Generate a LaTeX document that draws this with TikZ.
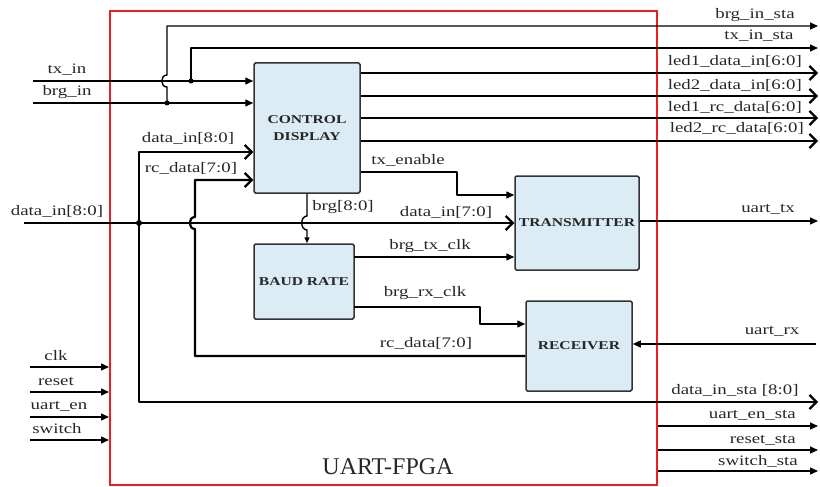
\documentclass[tikz,border=0pt]{standalone}
\usepackage{fontspec}
\setmainfont{Liberation Serif}
\newfontfamily\wide[FakeStretch=1.3]{Liberation Serif}
\usetikzlibrary{arrows.meta,positioning}
\definecolor{boxblue}{RGB}{219,236,244}
\definecolor{fpgared}{RGB}{236,30,36}

\tikzset{
  frame/.style={draw=fpgared, line width=2pt, minimum width=547pt, minimum height=474pt},
  blk/.style={draw=black!80, fill=boxblue, line width=1.5pt, rounded corners=1.5pt, text=black!85,
    font=\wide\bfseries\fontsize{12}{17}\selectfont, align=center},
  wire/.style={line width=1.4pt, line join=round},
  sig/.style={wire, -{Triangle[length=8pt,width=7pt]}},
  bus/.style={line width=2.2pt, line join=round, -{Straight Barb[length=7pt,width=14pt]}},
  lbl/.style={font=\wide\fontsize{14.5}{15}\selectfont, text=black!85, inner sep=1pt},
}

\begin{document}
\begin{tikzpicture}[x=1pt,y=-1pt]
	\useasboundingbox (0,0) rectangle (820,487);
	% Blocks
	\node[frame] (fpga) at (383.5,248) {};
	\node[blk, minimum width=106pt, minimum height=130pt] (ctrl) at (307,128) {CONTROL\\DISPLAY};
	\node[blk, minimum width=124pt, minimum height=94pt] (tx) at (577,223) {TRANSMITTER};
	\node[blk, minimum width=100pt, minimum height=75pt] (baud) at (304,281.5) {BAUD RATE};
	\node[blk, minimum width=106pt, minimum height=90pt] (rx) at (579,346) {RECEIVER};
	\node[font=\fontsize{24}{26}\selectfont, text=black!85] (name) at (388,467) {UART-FPGA};

	% tx_in / brg_in and their status copies
	\coordinate (txin) at (33,81);
	\coordinate (brgin) at (33,103);
	\coordinate (jtx) at (191,81);
	\coordinate (jbrg) at (167,103);
	\coordinate (brgout) at (818,26);
	\coordinate (txout) at (818,48);
	\draw[sig] (txin) -- (txin -| ctrl.west);
	\draw[sig] (brgin) -- (brgin -| ctrl.west);
	\draw[sig] (jbrg) -- (167,87) .. controls (160,87) and (160,75) .. (167,75) |- (brgout);
	\draw[sig] (jtx) |- (txout);
	\fill (jtx) circle (2.5pt);
	\fill (jbrg) circle (2.5pt);
	\node[lbl] (l-txin) at (67,70) {tx\_in};
	\node[lbl] (l-brgin) at (67,92) {brg\_in};
	\node[lbl] (l-brgout) at (755,15) {brg\_in\_sta};
	\node[lbl] (l-txout) at (759,36) {tx\_in\_sta};

	% display outputs
	\coordinate (led1d) at (818,73);
	\coordinate (led2d) at (818,96);
	\coordinate (led1r) at (818,118);
	\coordinate (led2r) at (818,141);
	\draw[bus] (led1d -| ctrl.east) -- (led1d);
	\draw[bus] (led2d -| ctrl.east) -- (led2d);
	\draw[bus] (led1r -| ctrl.east) -- (led1r);
	\draw[bus] (led2r -| ctrl.east) -- (led2r);
	\node[lbl, anchor=east] (l-led1d) at (803,61) {led1\_data\_in[6:0]};
	\node[lbl, anchor=east] (l-led2d) at (803,85) {led2\_data\_in[6:0]};
	\node[lbl, anchor=east] (l-led1r) at (803,107) {led1\_rc\_data[6:0]};
	\node[lbl, anchor=east] (l-led2r) at (805,128) {led2\_rc\_data[6:0]};

	% data_in bus
	\coordinate (din) at (24,223);
	\coordinate (jdin) at (139,223);
	\coordinate (dtop) at (139,152);
	\coordinate (dbot) at (139,402);
	\coordinate (dinsta) at (818,402);
	\draw[bus] (din) -- (din -| tx.west);
	\draw[bus, {Straight Barb[length=7pt,width=14pt]}-{Straight Barb[length=7pt,width=14pt]}]
		(dtop -| ctrl.west) -- (dtop) -- (dbot) -- (dinsta);
	\fill (jdin) circle (3pt);
	\node[lbl] (l-din) at (57,211) {data\_in[8:0]};
	\node[lbl] (l-dtop) at (188,138) {data\_in[8:0]};
	\node[lbl] (l-dtx) at (446,212) {data\_in[7:0]};
	\node[lbl] (l-dsta) at (735,390) {data\_in\_sta [8:0]};

	% rc_data bus
	\coordinate (rctop) at (195,180);
	\coordinate (rcbot) at (195,356);
	\draw[bus] (rcbot -| rx.west) -- (rcbot) -- (195,229) .. controls (188,229) and (188,217) .. (195,217)
		-- (rctop) -- (rctop -| ctrl.west);
	\node[lbl] (l-rctop) at (191,168) {rc\_data[7:0]};
	\node[lbl] (l-rcbot) at (426,343) {rc\_data[7:0]};

	% brg and clocks
	\draw[wire, -{Triangle[length=6pt,width=5pt]}] (ctrl.south) -- (307,216) .. controls (300,216) and (300,230) .. (307,230)
		-- (ctrl.south |- baud.north);
	\node[lbl] (l-brg) at (343,207) {brg[8:0]};
	\coordinate (txen) at (457,172);
	\coordinate (txen2) at (457,195);
	\draw[sig] (txen -| ctrl.east) -- (txen) -- (txen2) -- (txen2 -| tx.west);
	\node[lbl] (l-txen) at (408,160) {tx\_enable};
	\coordinate (btx) at (354,257);
	\draw[sig] (btx) -- (btx -| tx.west);
	\node[lbl] (l-btx) at (430,246) {brg\_tx\_clk};
	\coordinate (brx) at (354,307);
	\coordinate (brx2) at (480,307);
	\coordinate (brx3) at (480,324);
	\draw[sig] (brx) -- (brx2) -- (brx3) -- (brx3 -| rx.west);
	\node[lbl] (l-brx) at (425,293) {brg\_rx\_clk};

	% uart lines
	\coordinate (utx) at (818,221);
	\draw[sig] (utx -| tx.east) -- (utx);
	\node[lbl] (l-utx) at (768,209) {uart\_tx};
	\coordinate (urx) at (816,344);
	\draw[sig] (urx) -- (urx -| rx.east);
	\node[lbl] (l-urx) at (772,331) {uart\_rx};

	% control inputs
	\coordinate (clk) at (30,367);
	\coordinate (rst) at (30,392);
	\coordinate (uen) at (30,417);
	\coordinate (sw) at (30,440);
	\draw[sig] (clk) -- (clk -| fpga.west);
	\draw[sig] (rst) -- (rst -| fpga.west);
	\draw[sig] (uen) -- (uen -| fpga.west);
	\draw[sig] (sw) -- (sw -| fpga.west);
	\node[lbl] (l-clk) at (56,356) {clk};
	\node[lbl] (l-rst) at (56,381) {reset};
	\node[lbl] (l-uen) at (59,406) {uart\_en};
	\node[lbl] (l-sw) at (57,429) {switch};

	% status outputs
	\coordinate (uensta) at (818,426);
	\coordinate (rststa) at (818,450);
	\coordinate (swsta) at (818,471);
	\draw[sig] (uensta -| fpga.east) -- (uensta);
	\draw[sig] (rststa -| fpga.east) -- (rststa);
	\draw[sig] (swsta -| fpga.east) -- (swsta);
	\node[lbl, anchor=east] (l-uensta) at (797,415) {uart\_en\_sta};
	\node[lbl, anchor=east] (l-rststa) at (797,440) {reset\_sta};
	\node[lbl, anchor=east] (l-swsta) at (799,461) {switch\_sta};
\end{tikzpicture}
\end{document}
